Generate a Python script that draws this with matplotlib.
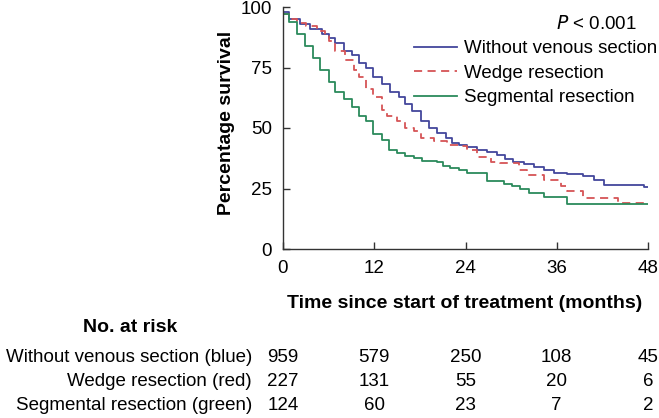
import matplotlib.pyplot as plt

plt.rcParams['font.family'] = ['Liberation Sans', 'DejaVu Sans']

# Kaplan-Meier steps (months, % survival)
blue_t = [0, 0.75, 2.3, 3.6, 5.1, 6.0, 6.9, 8.0, 9.1, 10.0, 10.9, 11.9, 13.0, 14.1, 15.2,
          16.1, 17.0, 18.1, 19.2, 20.3, 21.4, 22.2, 23.1, 24.2, 25.5, 26.8, 28.1, 29.2,
          30.3, 31.7, 33.0, 34.3, 35.6, 37.4, 39.5, 40.9, 42.2, 47.5, 48]
blue_s = [98, 95, 93, 91, 89, 87, 85, 82, 80, 77, 75, 71, 68, 65, 63,
          60, 57, 53, 50, 48, 46, 44, 43, 42, 41, 40, 39, 37,
          36, 35, 34, 32.5, 31.5, 30.8, 30, 28.5, 26.5, 25.7, 25.7]

red_t = [0, 0.75, 1.8, 3.0, 4.5, 5.5, 6.0, 6.9, 8.2, 9.3, 10.0, 10.9, 11.9, 13.0, 13.7,
         15.0, 16.1, 17.2, 18.1, 19.8, 21.6, 23.3, 24.2, 25.5, 27.3, 28.6, 31.0, 32.1,
         34.3, 36.5, 37.4, 39.5, 44.0, 48]
red_s = [97, 95, 93.5, 92, 90, 88, 86, 82, 78, 74, 71, 66, 63, 57.5, 55,
         53, 50, 48.6, 46, 44.5, 43, 42.5, 41, 38, 36, 35.5, 32.8, 30.7,
         28.6, 26, 23.8, 21, 19, 19]

green_t = [0, 0.75, 1.8, 2.9, 4.0, 4.9, 6.0, 6.9, 8.0, 9.1, 10.0, 10.9, 11.9, 13.0, 13.9,
           15.0, 16.1, 17.2, 18.3, 20.3, 21.1, 22.0, 23.1, 24.2, 26.8, 29.0, 30.1, 31.2,
           32.3, 34.3, 37.4, 48]
green_s = [97, 94, 89, 84, 79, 74, 69, 65, 62, 58.5, 55, 53, 47.5, 45, 41,
           39.5, 38.5, 37.5, 36.5, 36, 34.5, 33.5, 32.5, 31.5, 28, 27, 26, 25,
           23, 21.5, 18.5, 18.5]

labels = ['Without venous section', 'Wedge resection', 'Segmental resection']
risk_labels = ['Without venous section (blue)', 'Wedge resection (red)',
               'Segmental resection (green)']
risk_times = [0, 12, 24, 36, 48]
risk_blue = [959, 579, 250, 108, 45]
risk_red = [227, 131, 55, 20, 6]
risk_green = [124, 60, 23, 7, 2]

FS = 13.5

fig = plt.figure(figsize=(6.59, 4.18), dpi=100)
W, H = 659, 418
ax = fig.add_axes([283 / W, 1 - 249 / H, 365 / W, 242 / H])

ax.step(blue_t, blue_s, where='post', color='#43479c', lw=1.3, label=labels[0])
ax.step(red_t, red_s, where='post', color='#d65456', lw=1.3, ls=(0, (4.5, 3)), label=labels[1])
ax.step(green_t, green_s, where='post', color='#2b8a5c', lw=1.3, label=labels[2])

ax.set_xlim(0, 48)
ax.set_ylim(0, 100)
ax.set_xticks(risk_times)
ax.set_yticks([0, 25, 50, 75, 100])
ax.tick_params(direction='in', length=5, width=1, labelsize=FS, color='#333333')
ax.tick_params(axis='x', pad=8)
ax.tick_params(axis='y', pad=8)
for s in ['top', 'right']:
    ax.spines[s].set_visible(False)
for s in ['left', 'bottom']:
    ax.spines[s].set_linewidth(1)
    ax.spines[s].set_color('#333333')

ax.set_ylabel('Percentage survival', fontsize=14, fontweight='bold')
ax.yaxis.set_label_coords((235 - 283) / 365, 0.52)
fig.text(465 / W, 1 - 303 / H, 'Time since start of treatment (months)',
         ha='center', va='center', fontsize=14, fontweight='bold')

fig.text(637 / W, 1 - 24 / H, r'$P$' + ' < 0.001', ha='right', va='center', fontsize=FS)
ax.legend(frameon=False, loc='upper left', bbox_to_anchor=(414 / W, 1 - 40 / H),
          bbox_transform=fig.transFigure, fontsize=FS, handlelength=2.3,
          handletextpad=0.35, labelspacing=0.4, borderpad=0, borderaxespad=0)

# number at risk table
fig.text(130 / W, 1 - 328 / H, 'No. at risk', ha='center', va='center',
         fontsize=14, fontweight='bold')
rows_y = [357, 382, 406]
for lab, vals, yy in zip(risk_labels, [risk_blue, risk_red, risk_green], rows_y):
    fig.text(252 / W, 1 - yy / H, lab, ha='right', va='center', fontsize=FS)
    for t, v in zip(risk_times, vals):
        xp = ax.transData.transform((t, 0))[0]
        fig.text(xp / fig.bbox.width, 1 - yy / H, str(v), ha='center', va='center', fontsize=FS)

fig.savefig('out.png', dpi=100)
